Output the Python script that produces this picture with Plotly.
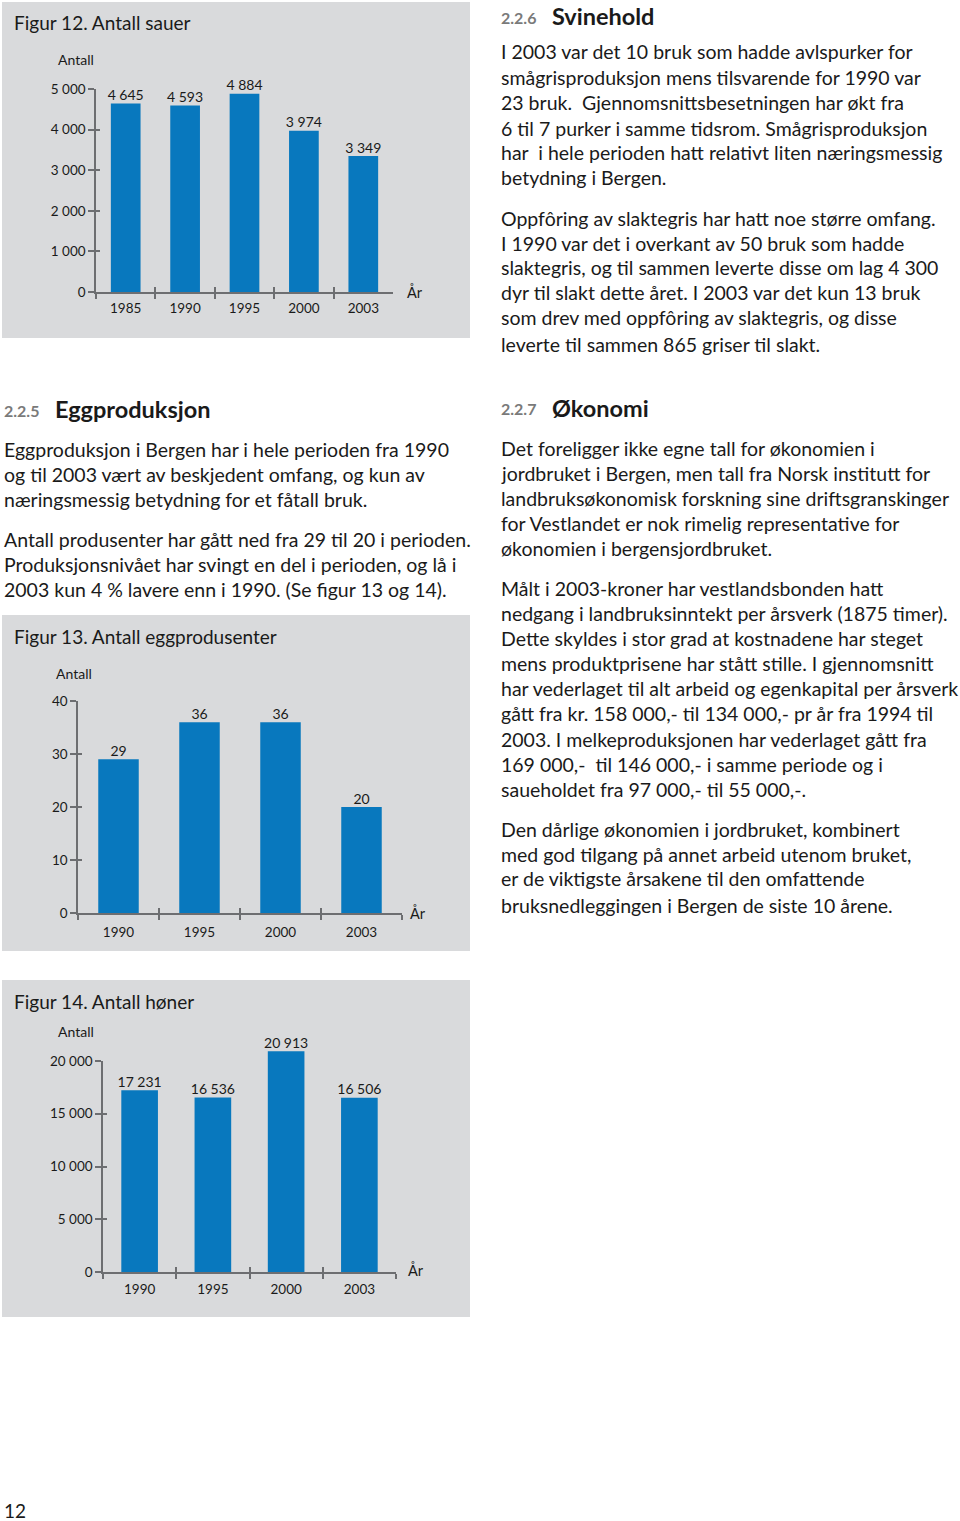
import plotly.graph_objects as go

# ---------------- data ----------------
sauer_years = ["1985", "1990", "1995", "2000", "2003"]
sauer_values = [4645, 4593, 4884, 3974, 3349]
sauer_ticks = [0, 1000, 2000, 3000, 4000, 5000]

egg_years = ["1990", "1995", "2000", "2003"]
egg_values = [29, 36, 36, 20]
egg_ticks = [0, 10, 20, 30, 40]

honer_years = ["1990", "1995", "2000", "2003"]
honer_values = [17231, 16536, 20913, 16506]
honer_ticks = [0, 5000, 10000, 15000, 20000]

titles = ["Figur 12. Antall sauer", "Figur 13. Antall eggprodusenter", "Figur 14. Antall høner"]

svinehold_p1 = [
    "I 2003 var det 10 bruk som hadde avlspurker for",
    "smågrisproduksjon mens tilsvarende for 1990 var",
    "23 bruk.  Gjennomsnittsbesetningen har økt fra",
    "6 til 7 purker i samme tidsrom. Smågrisproduksjon",
    "har  i hele perioden hatt relativt liten næringsmessig",
    "betydning i Bergen.",
]
svinehold_p2 = [
    "Oppfôring av slaktegris har hatt noe større omfang.",
    "I 1990 var det i overkant av 50 bruk som hadde",
    "slaktegris, og til sammen leverte disse om lag 4 300",
    "dyr til slakt dette året. I 2003 var det kun 13 bruk",
    "som drev med oppfôring av slaktegris, og disse",
    "leverte til sammen 865 griser til slakt.",
]
egg_p1 = [
    "Eggproduksjon i Bergen har i hele perioden fra 1990",
    "og til 2003 vært av beskjedent omfang, og kun av",
    "næringsmessig betydning for et fåtall bruk.",
]
egg_p2 = [
    "Antall produsenter har gått ned fra 29 til 20 i perioden.",
    "Produksjonsnivået har svingt en del i perioden, og lå i",
    "2003 kun 4 % lavere enn i 1990. (Se figur 13 og 14).",
]
oko_p1 = [
    "Det foreligger ikke egne tall for økonomien i",
    "jordbruket i Bergen, men tall fra Norsk institutt for",
    "landbruksøkonomisk forskning sine driftsgranskinger",
    "for Vestlandet er nok rimelig representative for",
    "økonomien i bergensjordbruket.",
]
oko_p2 = [
    "Målt i 2003-kroner har vestlandsbonden hatt",
    "nedgang i landbruksinntekt per årsverk (1875 timer).",
    "Dette skyldes i stor grad at kostnadene har steget",
    "mens produktprisene har stått stille. I gjennomsnitt",
    "har vederlaget til alt arbeid og egenkapital per årsverk",
    "gått fra kr. 158 000,- til 134 000,- pr år fra 1994 til",
    "2003. I melkeproduksjonen har vederlaget gått fra",
    "169 000,-  til 146 000,- i samme periode og i",
    "saueholdet fra 97 000,- til 55 000,-.",
]
oko_p3 = [
    "Den dårlige økonomien i jordbruket, kombinert",
    "med god tilgang på annet arbeid utenom bruket,",
    "er de viktigste årsakene til den omfattende",
    "bruksnedleggingen i Bergen de siste 10 årene.",
]

# ---------------- style ----------------
W, H = 960, 1521
FONT = "Lato"
BLUE = "#0878be"
PANEL = "#d9dadc"
AXIS = "#6d6e71"
TXT = "#1a1a1a"
BODY = 19.5
EXT = 40  # extra px of headroom for the (hidden) data axis above the drawn axis


def px(x):
    return x / W


def py(y):
    return 1 - y / H


fig = go.Figure()

charts = [
    dict(cats=sauer_years, vals=sauer_values, ticks=sauer_ticks, rng=[0, 5000],
         xd=(96, 393), yd=(89, 292), panel=(2, 2, 470, 338), title_y=22,
         antall=(56, 60), ar=(405, 292), standoff=3),
    dict(cats=egg_years, vals=egg_values, ticks=egg_ticks, rng=[0, 40],
         xd=(78, 402), yd=(701, 913), panel=(2, 615, 470, 951), title_y=636,
         antall=(54, 673), ar=(408, 913), standoff=6),
    dict(cats=honer_years, vals=honer_values, ticks=honer_ticks, rng=[0, 20000],
         xd=(103, 396), yd=(1061, 1272), panel=(2, 980, 470, 1317), title_y=1001,
         antall=(56, 1031), ar=(406, 1270), standoff=4),
]

layout = dict(
    width=W, height=H,
    margin=dict(l=0, r=0, t=0, b=0, pad=0, autoexpand=False),
    paper_bgcolor="white", plot_bgcolor="rgba(0,0,0,0)",
    showlegend=False,
    separators=", ",
    font=dict(family=FONT, color=TXT),
    bargap=0.5,
    shapes=[], annotations=[],
)


def ax(k):
    return "" if k == 1 else str(k)


for i, c in enumerate(charts):
    n = i + 1          # data x / data y
    ov = n + 3         # overlay axes (inside tick marks)
    dv = n + 6         # displayed y axis
    xa, ya = f"x{ax(n)}", f"y{ax(n)}"
    yd_name = f"y{dv}"
    top_px, bot_px = c["yd"]
    axis_h = bot_px - top_px
    data_max = c["rng"][1] * (axis_h + EXT) / axis_h

    fig.add_trace(go.Bar(
        x=c["cats"], y=c["vals"], xaxis=xa, yaxis=ya,
        marker=dict(color=BLUE, line=dict(width=0)),
        hoverinfo="skip",
    ))
    fig.add_trace(go.Scatter(
        x=c["cats"], y=c["vals"], xaxis=xa, yaxis=ya, mode="text",
        texttemplate="%{y:,d}", textposition="top center",
        textfont=dict(family=FONT, size=14, color=TXT),
        cliponaxis=False, hoverinfo="skip",
    ))
    # empty traces registering the displayed axis and the overlay tick axes
    fig.add_trace(go.Scatter(x=[], y=[], xaxis=xa, yaxis=yd_name, hoverinfo="skip"))
    fig.add_trace(go.Scatter(x=[], y=[], xaxis=f"x{ov}", yaxis=f"y{ov}",
                             hoverinfo="skip"))

    ncat = len(c["cats"])
    xdom = [px(c["xd"][0]), px(c["xd"][1])]
    ydom = [py(bot_px), py(top_px)]
    ydom_data = [py(bot_px), py(top_px - EXT)]

    layout[f"xaxis{ax(n)}"] = dict(
        domain=xdom, anchor=yd_name, type="category",
        range=[-0.5, ncat - 0.5], tickson="boundaries",
        ticks="outside", ticklen=5, tickwidth=1.5, tickcolor=AXIS,
        ticklabelstandoff=c["standoff"],
        showline=True, linecolor=AXIS, linewidth=1.5,
        showgrid=False, zeroline=False,
        tickfont=dict(family=FONT, size=13.5, color=TXT),
        fixedrange=True,
    )
    layout[f"yaxis{ax(n)}"] = dict(
        domain=ydom_data, anchor=xa, range=[0, data_max],
        visible=False, fixedrange=True,
    )
    layout[f"yaxis{dv}"] = dict(
        domain=ydom, anchor=xa, range=c["rng"],
        tickvals=c["ticks"], tickformat=",d",
        ticks="outside", ticklen=6, tickwidth=1.5, tickcolor=AXIS,
        showline=True, linecolor=AXIS, linewidth=1.5,
        showgrid=False, zeroline=False,
        tickfont=dict(family=FONT, size=13.5, color=TXT),
        fixedrange=True,
    )
    layout[f"xaxis{ov}"] = dict(
        domain=xdom, anchor=f"y{ov}", overlaying=xa, range=[-0.5, ncat - 0.5],
        tickvals=[k - 0.5 for k in range(ncat + 1)],
        ticks="inside", ticklen=5, tickwidth=1.5, tickcolor=AXIS,
        showticklabels=False, showline=False, showgrid=False, zeroline=False,
        fixedrange=True,
    )
    layout[f"yaxis{ov}"] = dict(
        domain=ydom, anchor=f"x{ov}", overlaying=yd_name, range=c["rng"],
        tickvals=c["ticks"],
        ticks="inside", ticklen=4, tickwidth=1.5, tickcolor=AXIS,
        showticklabels=False, showline=False, showgrid=False, zeroline=False,
        fixedrange=True,
    )
    x0, y0, x1, y1 = c["panel"]
    layout["shapes"].append(dict(
        type="rect", xref="paper", yref="paper", layer="below",
        x0=px(x0), x1=px(x1), y0=py(y1), y1=py(y0),
        fillcolor=PANEL, line=dict(width=0),
    ))
    layout["annotations"] += [
        dict(text=titles[i], x=px(12), y=py(c["title_y"]), xref="paper", yref="paper",
             xanchor="left", yanchor="middle", showarrow=False,
             font=dict(family=FONT, size=19, color=TXT)),
        dict(text="Antall", x=px(c["antall"][0]), y=py(c["antall"][1]), xref="paper",
             yref="paper", xanchor="left", yanchor="middle", showarrow=False,
             font=dict(family=FONT, size=14, color=TXT)),
        dict(text="År", x=px(c["ar"][0]), y=py(c["ar"][1]), xref="paper",
             yref="paper", xanchor="left", yanchor="middle", showarrow=False,
             font=dict(family=FONT, size=14.5, color=TXT)),
    ]


def add_lines(lines, x, ys, size=BODY):
    for line, y in zip(lines, ys):
        layout["annotations"].append(dict(
            text=line, x=px(x), y=py(y), xref="paper", yref="paper",
            xanchor="left", yanchor="middle", showarrow=False,
            font=dict(family=FONT, size=size, color=TXT)))


def add_heading(num, title, x, y):
    layout["annotations"].append(dict(
        text=f"<b>{num}</b>", x=px(x), y=py(y + 1), xref="paper", yref="paper",
        xanchor="left", yanchor="middle", showarrow=False,
        font=dict(family=FONT, size=16, color="#7a7a7a")))
    layout["annotations"].append(dict(
        text=f"<b>{title}</b>", x=px(x + 51), y=py(y), xref="paper", yref="paper",
        xanchor="left", yanchor="middle", showarrow=False,
        font=dict(family=FONT, size=23.5, color=TXT)))


add_heading("2.2.6", "Svinehold", 499, 16)
add_lines(svinehold_p1, 499, [52, 77, 102, 128, 153, 178])
add_lines(svinehold_p2, 499, [218, 243, 268, 293, 318, 344])

add_heading("2.2.5", "Eggproduksjon", 2, 409)
add_lines(egg_p1, 2, [449, 474, 499])
add_lines(egg_p2, 2, [539, 564, 589])

add_heading("2.2.7", "Økonomi", 499, 408)
add_lines(oko_p1, 499, [448, 473, 498, 523, 548])
add_lines(oko_p2, 499, [588, 613, 638, 663, 688, 714, 739, 764, 789])
add_lines(oko_p3, 499, [829, 854, 879, 905])

layout["annotations"].append(dict(
    text="12", x=px(2), y=py(1510), xref="paper", yref="paper",
    xanchor="left", yanchor="middle", showarrow=False,
    font=dict(family=FONT, size=19, color=TXT)))

fig.update_layout(**layout)
fig.write_html(
    "out.html",
    config={"displayModeBar": False},
    post_script="document.body.style.margin='0';document.body.style.overflow='hidden';",
)
